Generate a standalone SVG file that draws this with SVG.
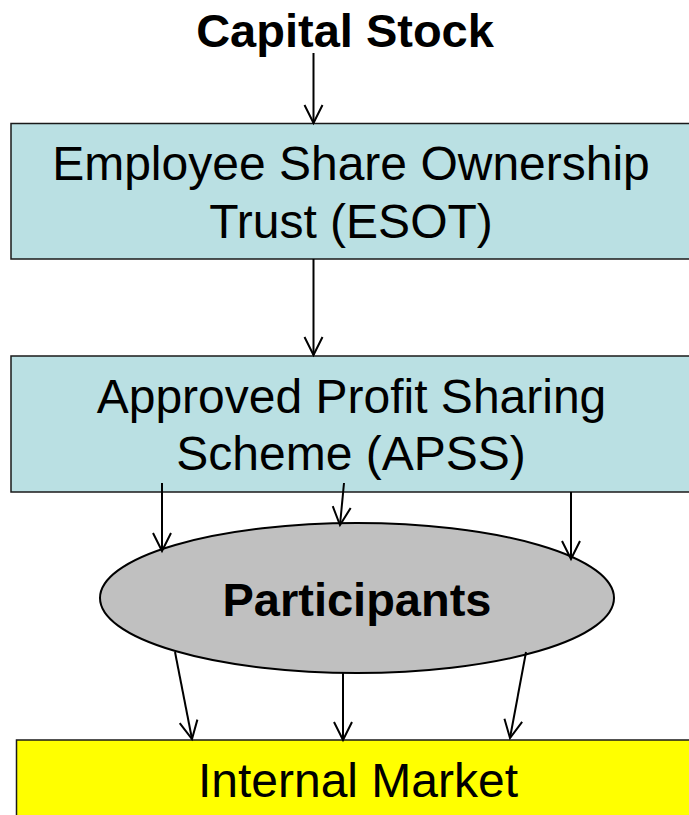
<svg xmlns="http://www.w3.org/2000/svg" width="689" height="815" viewBox="0 0 689 815">
  <style>
    .box { stroke: #1a1a1a; stroke-width: 1.5; }
    .blue { fill: #BAE0E3; }
    .label { font-family: "Liberation Sans", Arial, sans-serif; font-size: 48px; fill: #000; text-anchor: middle; }
    .bold { font-weight: bold; font-size: 47px; }
    .conn { stroke: #000; stroke-width: 2; fill: none; marker-end: url(#arrow); }
  </style>
  <defs>
    <marker id="arrow" markerUnits="userSpaceOnUse" markerWidth="22" markerHeight="22" viewBox="0 0 22 22" refX="19" refY="11" orient="auto">
      <path d="M1,2 L19,11 L1,20" fill="none" stroke="#000" stroke-width="2"/>
    </marker>
  </defs>

  <rect width="689" height="815" fill="#ffffff"/>

  <g id="capital-stock">
    <text class="label bold" x="345" y="47">Capital Stock</text>
  </g>

  <g id="esot">
    <rect class="box blue" x="11" y="123.5" width="690" height="135.5"/>
    <text class="label" x="351" y="180">Employee Share Ownership</text>
    <text class="label" x="351" y="238">Trust (ESOT)</text>
  </g>

  <g id="apss">
    <rect class="box blue" x="11" y="356" width="690" height="136"/>
    <text class="label" x="351.5" y="413">Approved Profit Sharing</text>
    <text class="label" x="351" y="470">Scheme (APSS)</text>
  </g>

  <g id="participants">
    <ellipse cx="357" cy="598" rx="257" ry="75" fill="#C0C0C0" stroke="#000" stroke-width="2"/>
    <text class="label bold" x="357" y="616">Participants</text>
  </g>

  <g id="internal-market">
    <rect class="box" x="16.5" y="740" width="690" height="90" fill="#FFFF00"/>
    <text class="label" x="358" y="797">Internal Market</text>
  </g>

  <g id="connectors">
    <line class="conn" x1="313.5" y1="53" x2="313.5" y2="123"/>
    <line class="conn" x1="313.5" y1="259" x2="313.5" y2="355"/>
    <line class="conn" x1="162" y1="483" x2="162" y2="551"/>
    <line class="conn" x1="344" y1="483" x2="340" y2="525"/>
    <line class="conn" x1="571" y1="492" x2="571" y2="559"/>
    <line class="conn" x1="175" y1="652" x2="192" y2="739"/>
    <line class="conn" x1="343" y1="673" x2="343" y2="740"/>
    <line class="conn" x1="526" y1="652" x2="510" y2="738"/>
  </g>
</svg>
